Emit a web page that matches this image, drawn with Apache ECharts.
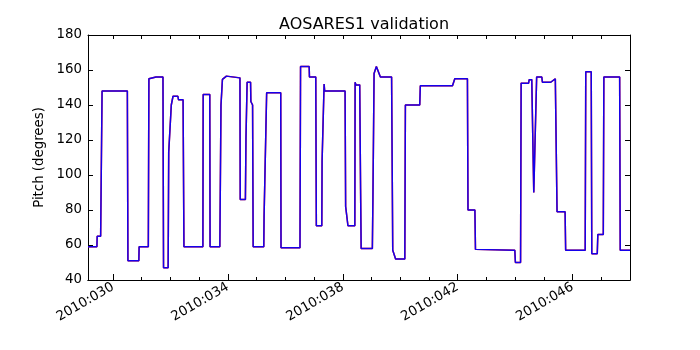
<!DOCTYPE html>
<html>
<head>
<meta charset="utf-8">
<script src="https://cdn.jsdelivr.net/npm/echarts@6/dist/echarts.min.js"></script>
<style>
  html, body { margin: 0; padding: 0; background: #fff; }
  #main { width: 700px; height: 350px; }
</style>
</head>
<body>
<div id="main"></div>
<script>
// day of year 2010 (decimal) and pitch in degrees
var dayOfYear = [
  29.13, 29.44, 29.45, 29.57, 29.62, 30.50, 30.52, 30.90, 30.91, 31.23,
  31.25, 31.50, 31.74, 31.76, 31.92, 31.94, 31.97, 32.03, 32.09, 32.26,
  32.28, 32.44, 32.45, 32.47, 33.13, 33.14, 33.37, 33.38, 33.72, 33.76,
  33.81, 33.95, 33.97, 34.42, 34.43, 34.61, 34.63, 34.67, 34.79, 34.80,
  34.86, 34.88, 35.25, 35.26, 35.31, 35.35, 35.84, 35.85, 36.51, 36.53,
  36.83, 36.84, 37.06, 37.08, 37.27, 37.28, 37.33, 37.35, 37.37, 38.08,
  38.10, 38.18, 38.42, 38.43, 38.46, 38.59, 38.62, 38.64, 39.03, 39.05,
  39.09, 39.17, 39.20, 39.31, 39.70, 39.74, 39.84, 40.16, 40.18, 40.68,
  40.70, 41.82, 41.90, 42.34, 42.36, 42.60, 42.62, 43.99, 44.01, 44.19,
  44.21, 44.47, 44.49, 44.58, 44.65, 44.68, 44.75, 44.93, 44.95, 45.24,
  45.40, 45.44, 45.46, 45.74, 45.76, 46.44, 46.46, 46.65, 46.67, 46.86,
  46.88, 47.07, 47.09, 47.64, 47.66, 48.00
]
var pitchTelem = [
  59, 59, 65, 65, 148, 148, 51, 51, 59, 59,
  155, 156, 156, 47, 47, 113, 113, 140, 145, 145,
  143, 143, 142, 59, 59, 146, 146, 59, 59, 140,
  154.6, 156.5, 155.5, 155.5, 86, 86, 121, 153, 153, 142,
  140, 59, 59, 76, 76, 147, 147, 58.5, 58.5, 162,
  162, 156, 156, 71, 71, 108, 108, 152, 148, 148,
  82, 71, 71, 153, 151.5, 151.5, 92, 58, 58, 87,
  158, 162, 162, 156, 156, 57, 52, 52, 140, 140,
  151, 151, 155, 155, 80, 80, 57.5, 57, 50, 50,
  152.5, 152.5, 154.5, 154.5, 90, 90, 156, 156, 153, 153,
  155, 155, 79, 79, 57, 57, 159, 159, 55, 55,
  66, 66, 156, 156, 57, 57
]
var pitchModel = pitchTelem.slice()

var xMin = 29.13
var xMax = 48.0
var majorDays = [30, 34, 38, 42, 46]
var minorDays = [30, 31, 32, 33, 34, 35, 36, 37, 38, 39, 40, 41, 42, 43, 44, 45, 46, 47]

function pairs(xs, ys) {
  return xs.map(function (x, i) { return [x, ys[i]] })
}

function dayLabel(v) {
  var d = String(Math.round(v))
  while (d.length < 3) d = '0' + d
  return '2010:' + d
}

var font = 'DejaVu Sans'
var fs = 13.33

function xAx(pos, ticks, len, showLabel) {
  return {
    type: 'value',
    position: pos,
    min: xMin,
    max: xMax,
    splitLine: { show: false },
    axisLine: { show: true, onZero: false, lineStyle: { color: '#000', width: 1 } },
    axisTick: { show: true, inside: true, length: len, customValues: ticks, lineStyle: { color: '#000' } },
    axisLabel: {
      show: showLabel,
      customValues: majorDays,
      rotate: 30,
      margin: 6,
      color: '#000',
      fontFamily: font,
      fontSize: fs,
      formatter: dayLabel
    }
  }
}

function yAx(pos, showLabel) {
  return {
    type: 'value',
    position: pos,
    min: 40,
    max: 180,
    interval: 20,
    splitLine: { show: false },
    axisLine: { show: true, onZero: false, lineStyle: { color: '#000', width: 1 } },
    axisTick: { show: true, inside: true, length: 5, lineStyle: { color: '#000' } },
    axisLabel: { show: showLabel, color: '#000', fontFamily: font, fontSize: fs, margin: 6 },
    name: showLabel ? 'Pitch (degrees)' : '',
    nameLocation: 'middle',
    nameGap: 40,
    nameTextStyle: { color: '#000', fontFamily: font, fontSize: fs }
  }
}

var chart = echarts.init(document.getElementById('main'))
chart.setOption({
  backgroundColor: '#fff',
  animation: false,
  title: {
    text: 'AOSARES1 validation',
    left: 359,
    top: 12,
    textAlign: 'center',
    textStyle: { color: '#000', fontFamily: font, fontSize: 16, fontWeight: 'normal' }
  },
  grid: { left: 88, right: 70, top: 35, bottom: 70 },
  xAxis: [
    xAx('bottom', majorDays, 6, true),
    xAx('bottom', minorDays, 3, false),
    xAx('top', minorDays, 4, false)
  ],
  yAxis: [yAx('left', true), yAx('right', false)],
  series: [
    {
      name: 'model',
      type: 'line',
      data: pairs(dayOfYear, pitchModel),
      showSymbol: false,
      lineStyle: { color: '#ff0000', width: 1.5 },
      z: 2
    },
    {
      name: 'telemetry',
      type: 'line',
      data: pairs(dayOfYear, pitchTelem),
      showSymbol: false,
      lineStyle: { color: '#0000ff', width: 1.5, opacity: 0.92 },
      z: 3
    }
  ]
})
</script>
</body>
</html>
